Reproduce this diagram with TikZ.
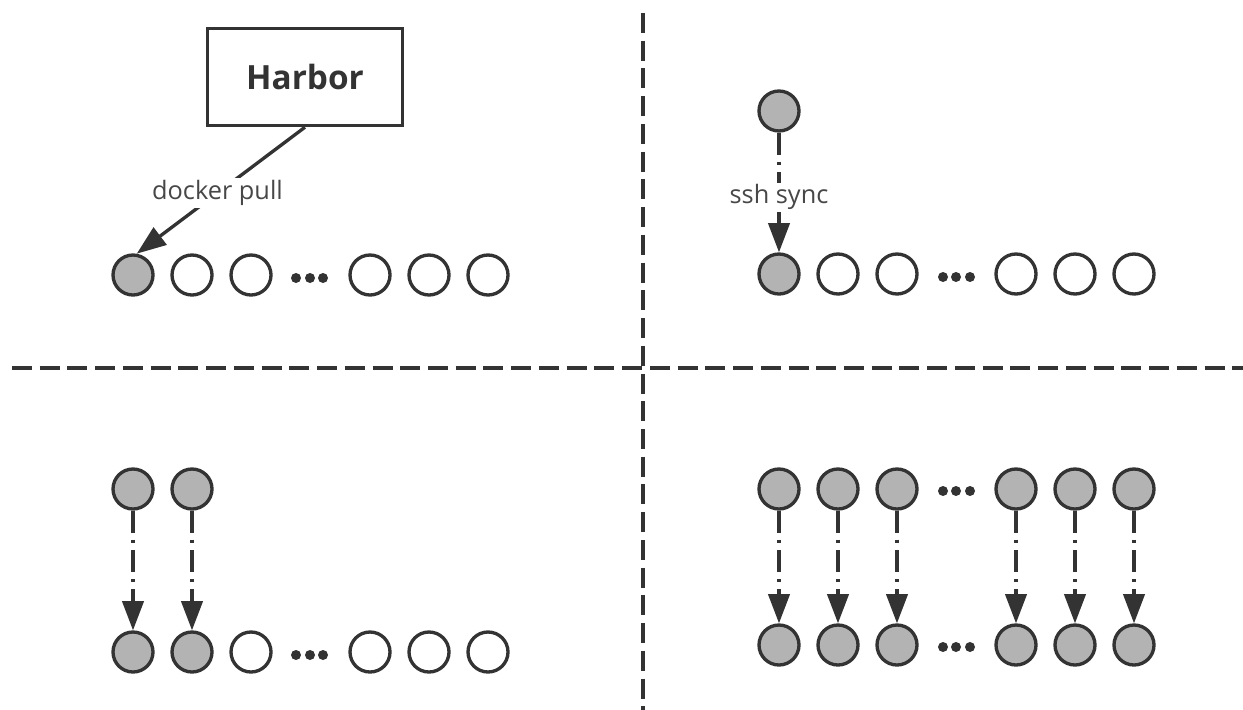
\documentclass[tikz,border=0pt]{standalone}
\usepackage{fontspec}
\setmainfont{Open Sans}
\usetikzlibrary{arrows.meta}
\definecolor{ink}{HTML}{333333}
\definecolor{busy}{HTML}{B3B3B3}
\definecolor{lblgray}{HTML}{474747}

\begin{document}
\begin{tikzpicture}[x=0.75pt,y=-0.75pt,
  host/.style={circle, draw=ink, line width=2.5pt, inner sep=0pt, minimum size=30pt},
  pulled/.style={host, fill=busy},
  idle/.style={host, fill=white},
  more/.style={circle, fill=ink, inner sep=0pt, minimum size=7.5pt},
  registry/.style={draw=ink, line width=2.3pt, fill=white, minimum width=146pt, minimum height=73pt,
    inner sep=0pt, text=ink, font=\bfseries\fontsize{25}{30}\selectfont},
  divider/.style={draw=ink, line width=2.5pt, dash pattern=on 15pt off 5.8pt},
  link/.style={draw=ink, line width=2.5pt, -{Triangle[length=22pt,width=16pt]}},
  syncline/.style={link, dash pattern=on 16.5pt off 5.25pt on 2.5pt off 5.25pt},
  lbl/.style={fill=white, inner sep=1.5pt, text=lblgray, font=\fontsize{19}{22}\selectfont}
]
\useasboundingbox[fill=white] (0,0) rectangle (1243,710);

% quadrant dividers
\coordinate (vtop) at (643,13);
\coordinate (vbot) at (643,710);
\coordinate (hleft) at (12,368);
\coordinate (hright) at (1243,368);
\draw[divider] (vtop) -- (vbot);
\draw[divider] (hleft) -- (hright);

% top-left: first host pulls the image from Harbor
\node[registry] (harbor) at (305,77) {Harbor};
\foreach \i/\x/\s in {1/133/pulled,2/192/idle,3/251/idle,4/370/idle,5/429/idle,6/488/idle}
  \node[\s] (tl\i) at (\x,275) {};
\foreach \i/\x in {1/296,2/310,3/323}
  \node[more] (tld\i) at (\x,278) {};
\draw[link] (harbor.south) -- node[lbl, pos=0.52] {docker pull} (tl1.80);

% top-right: image synced to the first host over ssh
\node[pulled] (src) at (779,111) {};
\foreach \i/\x/\s in {1/779/pulled,2/838/idle,3/897/idle,4/1016/idle,5/1075/idle,6/1134/idle}
  \node[\s] (tr\i) at (\x,274) {};
\foreach \i/\x in {1/943,2/956,3/970}
  \node[more] (trd\i) at (\x,277) {};
\draw[syncline] (src) -- node[lbl, pos=0.54] {ssh sync} (tr1);

% bottom-left: two sources sync to two more hosts
\foreach \i/\x in {1/133,2/192}
  \node[pulled] (blt\i) at (\x,489) {};
\foreach \i/\x/\s in {1/133/pulled,2/192/pulled,3/251/idle,4/370/idle,5/429/idle,6/488/idle}
  \node[\s] (blb\i) at (\x,652) {};
\foreach \i/\x in {1/296,2/310,3/323}
  \node[more] (bld\i) at (\x,655) {};
\foreach \i in {1,2}
  \draw[syncline] (blt\i) -- (blb\i);

% bottom-right: every host synced
\foreach \i/\x in {1/779,2/838,3/897,4/1016,5/1075,6/1134} {
  \node[pulled] (brt\i) at (\x,489) {};
  \node[pulled] (brb\i) at (\x,645) {};
}
\foreach \i/\x in {1/943,2/956,3/970} {
  \node[more] (brtd\i) at (\x,491) {};
  \node[more] (brbd\i) at (\x,647) {};
}
\foreach \i in {1,...,6}
  \draw[syncline] (brt\i) -- (brb\i);
\end{tikzpicture}
\end{document}
